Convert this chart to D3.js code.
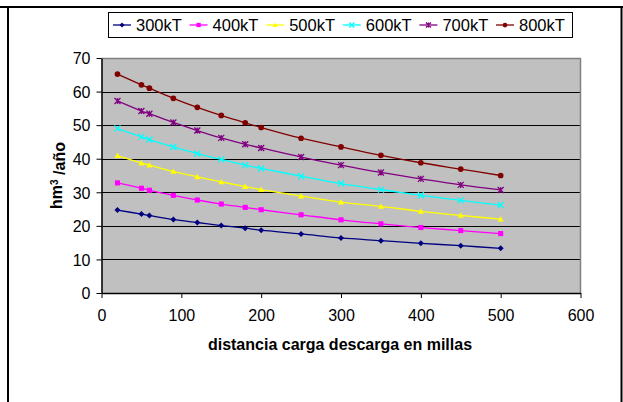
<!DOCTYPE html>
<html>
<head>
<meta charset="utf-8">
<script src="https://cdn.jsdelivr.net/npm/d3@7"></script>
<style>
  html, body { margin: 0; padding: 0; background: #fff; }
  svg { display: block; font-family: Arial, "Liberation Sans", sans-serif; }
</style>
</head>
<body>
<svg id="chart" width="623" height="402"></svg>
<script>
// Distance between loading and unloading ports (miles)
const distances = [20, 50, 60, 90, 120, 150, 180, 200, 250, 300, 350, 400, 450, 500];

// Annual volume (hm³/año) for each ship capacity
const s300 = [24.7, 23.5, 23.1, 21.9, 21.0, 20.1, 19.3, 18.7, 17.6, 16.4, 15.6, 14.8, 14.1, 13.3];
const s400 = [32.8, 31.2, 30.6, 29.1, 27.7, 26.5, 25.5, 24.8, 23.3, 21.8, 20.6, 19.5, 18.6, 17.7];
const s500 = [40.9, 38.7, 38.1, 36.2, 34.6, 33.1, 31.7, 30.8, 28.9, 27.1, 25.8, 24.3, 23.1, 22.0];
const s600 = [49.0, 46.5, 45.7, 43.5, 41.5, 39.8, 38.1, 37.1, 34.8, 32.6, 30.8, 29.1, 27.6, 26.2];
const s700 = [57.2, 54.2, 53.4, 50.8, 48.4, 46.2, 44.3, 43.2, 40.5, 38.1, 35.9, 34.0, 32.2, 30.7];
const s800 = [65.2, 62.0, 61.0, 58.0, 55.3, 52.9, 50.7, 49.3, 46.1, 43.5, 41.0, 38.8, 36.9, 35.0];

const seriesNames = ["300kT", "400kT", "500kT", "600kT", "700kT", "800kT"];
const xTicks = [0, 100, 200, 300, 400, 500, 600];
const yTicks = [0, 10, 20, 30, 40, 50, 60, 70];

const xTitle = "distancia carga descarga en millas";

const series = [
  { name: seriesNames[0], values: s300, color: "#000080", marker: "diamond" },
  { name: seriesNames[1], values: s400, color: "#FF00FF", marker: "square" },
  { name: seriesNames[2], values: s500, color: "#FFFF00", marker: "triangle" },
  { name: seriesNames[3], values: s600, color: "#00FFFF", marker: "cross" },
  { name: seriesNames[4], values: s700, color: "#800080", marker: "star" },
  { name: seriesNames[5], values: s800, color: "#800000", marker: "circle" }
];

const svg = d3.select("#chart");
const W = 623, H = 402;

// Page frame
svg.append("line").attr("x1", 0).attr("x2", W).attr("y1", 7).attr("y2", 7)
  .attr("stroke", "#000").attr("stroke-width", 2);
svg.append("line").attr("x1", 8).attr("x2", 8).attr("y1", 6).attr("y2", H)
  .attr("stroke", "#000").attr("stroke-width", 2);
svg.append("line").attr("x1", 621.5).attr("x2", 621.5).attr("y1", 6).attr("y2", H)
  .attr("stroke", "#000").attr("stroke-width", 2);

const plot = { left: 101.5, right: 580.5, top: 58, bottom: 293 };

const x = d3.scaleLinear().domain([0, 600]).range([plot.left, plot.right]);
const y = d3.scaleLinear().domain([0, 70]).range([plot.bottom, plot.top]);

// Plot background
svg.append("rect")
  .attr("x", plot.left).attr("y", plot.top)
  .attr("width", plot.right - plot.left).attr("height", plot.bottom - plot.top)
  .attr("fill", "#C0C0C0");

// Horizontal gridlines
svg.append("g").selectAll("line")
  .data(yTicks.filter(v => v > 0 && v < 70))
  .join("line")
  .attr("x1", plot.left).attr("x2", plot.right)
  .attr("y1", d => Math.round(y(d)) + 0.5).attr("y2", d => Math.round(y(d)) + 0.5)
  .attr("stroke", "#000").attr("stroke-width", 1);

// Plot border (top and right in gray)
svg.append("line").attr("x1", plot.left).attr("x2", plot.right)
  .attr("y1", plot.top + 0.5).attr("y2", plot.top + 0.5)
  .attr("stroke", "#808080").attr("stroke-width", 1.5);
svg.append("line").attr("x1", plot.right).attr("x2", plot.right)
  .attr("y1", plot.top).attr("y2", plot.bottom)
  .attr("stroke", "#808080").attr("stroke-width", 1.5);

// Axes
const xAxis = d3.axisBottom(x).tickValues(xTicks).tickSize(5).tickPadding(12).tickSizeOuter(0);
const yAxis = d3.axisLeft(y).tickValues(yTicks).tickSize(5).tickPadding(6).tickSizeOuter(0);

const gx = svg.append("g").attr("transform", `translate(0,${plot.bottom})`).call(xAxis);
const gy = svg.append("g").attr("transform", `translate(${plot.left},0)`).call(yAxis);

[gx, gy].forEach(g => {
  g.select(".domain").attr("stroke", "#000").attr("stroke-width", 1.5);
  g.selectAll(".tick line").attr("stroke", "#000");
  g.selectAll(".tick text")
    .attr("fill", "#000")
    .style("font-family", "Arial, 'Liberation Sans', sans-serif")
    .style("font-size", "16px");
});
gy.selectAll(".tick text").attr("dy", "0.36em");

// Axis titles
svg.append("text")
  .attr("x", (plot.left + plot.right) / 2 - 1)
  .attr("y", 350)
  .attr("text-anchor", "middle")
  .style("font-weight", "bold")
  .style("font-size", "16px")
  .text(xTitle);

const yt = svg.append("text")
  .attr("transform", `translate(62,${(plot.top + plot.bottom) / 2}) rotate(-90)`)
  .attr("text-anchor", "middle")
  .style("font-weight", "bold")
  .style("font-size", "16px");
yt.append("tspan").text("hm");
yt.append("tspan").attr("dy", "-0.45em").style("font-size", "10px").text("3");
yt.append("tspan").attr("dy", "0.45em").text(" /año");

// Marker shapes
function drawMarker(g, type, color, size) {
  const s = size;
  switch (type) {
    case "diamond":
      g.append("path").attr("d", `M0,${-s}L${s},0L0,${s}L${-s},0Z`).attr("fill", color);
      break;
    case "square":
      g.append("rect").attr("x", -s * 0.85).attr("y", -s * 0.85)
        .attr("width", s * 1.7).attr("height", s * 1.7).attr("fill", color);
      break;
    case "triangle":
      g.append("path").attr("d", `M0,${-s}L${s},${s * 0.8}L${-s},${s * 0.8}Z`).attr("fill", color);
      break;
    case "cross":
      g.append("path").attr("d", `M${-s},${-s}L${s},${s}M${-s},${s}L${s},${-s}`)
        .attr("stroke", color).attr("stroke-width", 1.3).attr("fill", "none");
      break;
    case "star":
      g.append("path").attr("d", `M${-s},${-s}L${s},${s}M${-s},${s}L${s},${-s}M0,${-s}L0,${s}`)
        .attr("stroke", color).attr("stroke-width", 1.3).attr("fill", "none");
      break;
    case "circle":
      g.append("circle").attr("r", s * 0.95).attr("fill", color);
      break;
  }
}

const line = d3.line()
  .x((d, i) => x(distances[i]))
  .y(d => y(d))
  .curve(d3.curveCatmullRom.alpha(0.5));

const seriesG = svg.append("g");
series.forEach(s => {
  const g = seriesG.append("g");
  g.append("path")
    .attr("d", line(s.values))
    .attr("fill", "none")
    .attr("stroke", s.color)
    .attr("stroke-width", 1.3);
  s.values.forEach((v, i) => {
    const mg = g.append("g").attr("transform", `translate(${x(distances[i])},${y(v)})`);
    drawMarker(mg, s.marker, s.color, 3);
  });
});

// Legend
const legend = { left: 108.5, top: 12.5, right: 572.5, bottom: 37.5 };
svg.append("rect")
  .attr("x", legend.left).attr("y", legend.top)
  .attr("width", legend.right - legend.left).attr("height", legend.bottom - legend.top)
  .attr("fill", "#fff").attr("stroke", "#000").attr("stroke-width", 1);

const step = 76.6;
const legendG = svg.append("g");
series.forEach((s, i) => {
  const x0 = 113 + i * step;
  const cy = (legend.top + legend.bottom) / 2;
  const g = legendG.append("g");
  g.append("line").attr("x1", x0).attr("x2", x0 + 18).attr("y1", cy).attr("y2", cy)
    .attr("stroke", s.color).attr("stroke-width", 1.3);
  const mg = g.append("g").attr("transform", `translate(${x0 + 9},${cy})`);
  drawMarker(mg, s.marker, s.color, 2.5);
  g.append("text")
    .attr("x", x0 + 23).attr("y", cy).attr("dy", "0.36em")
    .style("font-size", "16.5px")
    .text(s.name);
});
</script>
</body>
</html>
